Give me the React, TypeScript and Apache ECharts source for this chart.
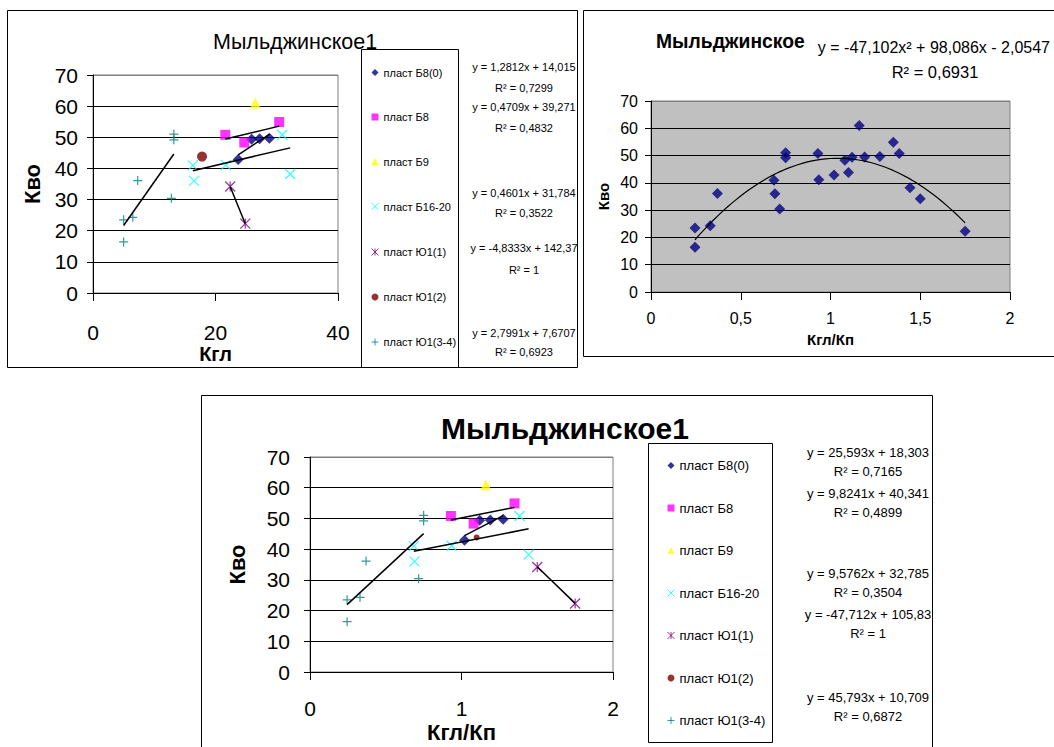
import React, { useEffect, useRef } from 'react';
import * as echarts from 'echarts';

const FONT = '"Liberation Sans", Arial, sans-serif';

const layerNames = ['пласт Б8(0)', 'пласт Б8', 'пласт Б9', 'пласт Б16-20', 'пласт Ю1(1)', 'пласт Ю1(2)', 'пласт Ю1(3-4)'];
const layerColors = ['#000080', '#FF00FF', '#FFFF00', '#00FFFF', '#800080', '#800000', '#008080'];

// Кгл per layer
const kglB8_0 = [23.7, 25.9, 27.2, 28.8];
const kglB8 = [21.6, 24.7, 30.4];
const kglB9 = [26.5];
const kglB16_20 = [16.3, 16.5, 21.7, 30.9, 32.2];
const kglU1_1 = [22.4, 24.86];
const kglU1_2 = [17.8];
const kglU1_34 = [5.0, 5.0, 6.5, 7.3, 12.8, 13.2, 13.2];

// Кгл/Кп per layer
const ratioB8_0 = [1.02, 1.12, 1.19, 1.275];
const ratioB8 = [0.93, 1.08, 1.35];
const ratioB9 = [1.16];
const ratioB16_20 = [0.685, 0.69, 0.935, 1.383, 1.443];
const ratioU1_1 = [1.5, 1.75];
const ratioU1_2 = [1.1];
const ratioU1_34 = [0.245, 0.245, 0.33, 0.37, 0.717, 0.75, 0.75];

// Кво per layer
const kvoB8_0 = [42.9, 49.4, 49.5, 49.7];
const kvoB8 = [50.8, 48.3, 54.9];
const kvoB9 = [61.0];
const kvoB16_20 = [41.0, 36.0, 41.1, 50.8, 38.2];
const kvoU1_1 = [34.2, 22.3];
const kvoU1_2 = [43.8];
const kvoU1_34 = [23.5, 16.4, 24.3, 36.1, 30.4, 51.0, 49.2];

const kglValues = [kglB8_0, kglB8, kglB9, kglB16_20, kglU1_1, kglU1_2, kglU1_34];
const ratioValues = [ratioB8_0, ratioB8, ratioB9, ratioB16_20, ratioU1_1, ratioU1_2, ratioU1_34];
const kvoValues = [kvoB8_0, kvoB8, kvoB9, kvoB16_20, kvoU1_1, kvoU1_2, kvoU1_34];

// linear trend lines (Excel labels)
const slopesKgl = [1.2812, 0.4709, null, 0.4601, -4.8333, null, 2.7991];
const interceptsKgl = [14.015, 39.271, null, 31.784, 142.37, null, 7.6707];
const r2Kgl = [0.7299, 0.4832, null, 0.3522, 1, null, 0.6923];
const slopesRatio = [25.593, 9.8241, null, 9.5762, -47.712, null, 45.793];
const interceptsRatio = [18.303, 40.341, null, 32.785, 105.83, null, 10.709];
const r2Ratio = [0.7165, 0.4899, null, 0.3504, 1, null, 0.6872];
// polynomial trend (all points)
const polyCoefs = [-47.102, 98.086, -2.0547];
const polyR2 = 0.6931;

const yTicks = [0, 10, 20, 30, 40, 50, 60, 70];

const symbolList = [
  'diamond',
  'rect',
  'triangle',
  'path://M0,0L10,10M10,0L0,10',
  'path://M0,0L10,10M10,0L0,10M5,0L5,10',
  'circle',
  'path://M5,0L5,10M0,5L10,5',
];
const strokeSymbol = [false, false, false, true, true, false, true];

const fmt = (n: number) => String(n).replace('.', ',');
const linEq = (a: number, b: number) =>
  'y = ' + fmt(a) + 'x ' + (b < 0 ? '- ' : '+ ') + fmt(Math.abs(b));

function itemStyleFor(i: number, bw = 1.2) {
  return strokeSymbol[i]
    ? { color: 'none', borderColor: layerColors[i], borderWidth: bw }
    : { color: layerColors[i] };
}

export default function App() {
  const ref = useRef<HTMLDivElement>(null);
  useEffect(() => {
    if (!ref.current) return;
    const chart = echarts.init(ref.current, undefined, { renderer: 'svg' });

    const series: any[] = [];
    const sizes1 = [11, 10, 11, 10, 10, 10, 9];
    const sizes3 = [11, 10, 11, 10, 10, 6, 9];
    [0, 2].forEach((g) => {
      const xs = g === 0 ? kglValues : ratioValues;
      const slopes = g === 0 ? slopesKgl : slopesRatio;
      const inters = g === 0 ? interceptsKgl : interceptsRatio;
      layerNames.forEach((name, i) => {
        series.push({
          type: 'scatter',
          name,
          xAxisIndex: g,
          yAxisIndex: g,
          symbol: symbolList[i],
          symbolSize: (g === 0 ? sizes1 : sizes3)[i],
          itemStyle: itemStyleFor(i),
          data: xs[i].map((x, j) => [x, kvoValues[i][j]]),
        });
      });
      layerNames.forEach((name, i) => {
        const a = slopes[i];
        const b = inters[i];
        if (a === null || b === null) return;
        const x0 = Math.min(...xs[i]);
        const x1 = Math.max(...xs[i]);
        series.push({
          type: 'line',
          name: 'trend ' + g + ' ' + i,
          xAxisIndex: g,
          yAxisIndex: g,
          showSymbol: false,
          symbol: 'none',
          silent: true,
          lineStyle: { color: '#000', width: 1.5 },
          data: [[x0, a * x0 + b], [x1, a * x1 + b]],
        });
      });
    });
    // panel 2
    const allRatio: number[] = [];
    const allPoints: number[][] = [];
    ratioValues.forEach((arr, i) => arr.forEach((x, j) => { allRatio.push(x); allPoints.push([x, kvoValues[i][j]]); }));
    series.push({
      type: 'scatter',
      name: 'Кво',
      xAxisIndex: 1,
      yAxisIndex: 1,
      symbol: 'diamond',
      symbolSize: 11,
      itemStyle: { color: '#000080' },
      data: allPoints,
    });
    const pMin = Math.min(...allRatio);
    const pMax = Math.max(...allRatio);
    const polyPts: number[][] = [];
    for (let k = 0; k <= 60; k++) {
      const x = pMin + ((pMax - pMin) * k) / 60;
      polyPts.push([x, polyCoefs[0] * x * x + polyCoefs[1] * x + polyCoefs[2]]);
    }
    series.push({
      type: 'line',
      name: 'poly',
      xAxisIndex: 1,
      yAxisIndex: 1,
      showSymbol: false,
      symbol: 'none',
      silent: true,
      lineStyle: { color: '#000', width: 1.2 },
      data: polyPts,
    });

    const gridColors = ['#000', '#000', '#000', '#000', '#000', '#000', '#000', '#808080'];
    const mkX = (gi: number, max: number, interval: number, fs: number, margin: number, name: string, nfs: number, ngap: number) => ({
      gridIndex: gi,
      type: 'value',
      min: 0,
      max,
      interval,
      axisLine: { show: true, onZero: false, lineStyle: { color: '#000', width: 1 } },
      axisTick: { show: true, length: 8, lineStyle: { color: '#000' } },
      axisLabel: { fontSize: fs, margin, color: '#000', fontFamily: FONT, formatter: (v: number) => fmt(v) },
      splitLine: { show: false },
      name,
      nameLocation: 'middle',
      nameGap: ngap,
      nameTextStyle: { fontSize: nfs, fontWeight: 'bold', color: '#000', fontFamily: FONT },
    });
    const mkY = (gi: number, fs: number, margin: number, nfs: number, ngap: number) => ({
      gridIndex: gi,
      type: 'value',
      min: yTicks[0],
      max: yTicks[yTicks.length - 1],
      interval: yTicks[1] - yTicks[0],
      axisLine: { show: true, onZero: false, lineStyle: { color: '#000', width: 1 } },
      axisTick: { show: true, length: 6, lineStyle: { color: '#000' } },
      axisLabel: { fontSize: fs, margin, color: '#000', fontFamily: FONT },
      splitLine: { show: true, lineStyle: { color: gridColors, width: 1 } },
      name: 'Кво',
      nameLocation: 'middle',
      nameRotate: 90,
      nameGap: ngap,
      nameTextStyle: { fontSize: nfs, fontWeight: 'bold', color: '#000', fontFamily: FONT },
    });

    const graphic: any[] = [];
    const rect = (x: number, y: number, w: number, h: number) => ({
      type: 'rect',
      shape: { x: x + 0.5, y: y + 0.5, width: w, height: h },
      style: { fill: 'none', stroke: '#000', lineWidth: 1 },
      silent: true,
      z: 100,
    });
    graphic.push(rect(7, 10, 570, 357));
    graphic.push(rect(583, 10, 480, 346));
    graphic.push(rect(201, 395, 731, 370));
    graphic.push(rect(361, 49, 97, 318));
    graphic.push(rect(648, 443, 124, 299));

    const eqPos1 = [[524, 67, 88], [524, 107, 128], null, [524, 193, 213], [524, 248, 270], null, [524, 333, 352]];
    const eqPos3 = [[868, 452, 471], [868, 493, 512], null, [868, 573, 592], [868, 614, 633], null, [868, 697, 716]];
    const addEq = (pos: any, a: number, b: number, r2: number, fs: number) => {
      graphic.push({
        type: 'text', x: pos[0], y: pos[1], silent: true,
        style: { text: linEq(a, b), fontSize: fs, fontFamily: FONT, fill: '#000', textAlign: 'center', textVerticalAlign: 'middle' },
      });
      graphic.push({
        type: 'text', x: pos[0], y: pos[2], silent: true,
        style: { text: 'R² = ' + fmt(r2), fontSize: fs, fontFamily: FONT, fill: '#000', textAlign: 'center', textVerticalAlign: 'middle' },
      });
    };
    layerNames.forEach((_, i) => {
      if (slopesKgl[i] !== null) addEq(eqPos1[i], slopesKgl[i] as number, interceptsKgl[i] as number, r2Kgl[i] as number, 11);
      if (slopesRatio[i] !== null) addEq(eqPos3[i], slopesRatio[i] as number, interceptsRatio[i] as number, r2Ratio[i] as number, 13);
    });
    const polyText =
      'y = ' + fmt(polyCoefs[0]) + 'x² ' + (polyCoefs[1] < 0 ? '- ' : '+ ') + fmt(Math.abs(polyCoefs[1])) + 'x ' +
      (polyCoefs[2] < 0 ? '- ' : '+ ') + fmt(Math.abs(polyCoefs[2]));
    graphic.push({
      type: 'text', x: 1050, y: 47, silent: true,
      style: { text: polyText, fontSize: 16, fontFamily: FONT, fill: '#000', textAlign: 'right', textVerticalAlign: 'middle' },
    });
    graphic.push({
      type: 'text', x: 935, y: 72, silent: true,
      style: { text: 'R² = ' + fmt(polyR2), fontSize: 16.5, fontFamily: FONT, fill: '#000', textAlign: 'center', textVerticalAlign: 'middle' },
    });

    const legendData = layerNames.map((name, i) => ({
      name,
      icon: symbolList[i],
      itemStyle: itemStyleFor(i, 1),
    }));

    chart.setOption({
      animation: false,
      backgroundColor: '#fff',
      title: [
        { text: 'Мыльджинское1', left: 213, top: 31, padding: 0, textStyle: { fontSize: 21.5, fontWeight: 'normal', color: '#000', fontFamily: FONT } },
        { text: 'Мыльджинское', left: 656, top: 32, padding: 0, textStyle: { fontSize: 19.3, fontWeight: 'bold', color: '#000', fontFamily: FONT } },
        { text: 'Мыльджинское1', left: 441, top: 413, padding: 0, textStyle: { fontSize: 30, fontWeight: 'bold', color: '#000', fontFamily: FONT } },
      ],
      legend: [
        {
          data: legendData, orient: 'vertical', left: 369, top: 67, padding: 0,
          itemWidth: 7, itemHeight: 7, itemGap: 33.5,
          textStyle: { fontSize: 11, color: '#000', fontFamily: FONT },
          selectedMode: false,
        },
        {
          data: legendData, orient: 'vertical', left: 665, top: 459, padding: 0,
          itemWidth: 7, itemHeight: 7, itemGap: 29.5,
          textStyle: { fontSize: 13, color: '#000', fontFamily: FONT },
          selectedMode: false,
        },
      ],
      grid: [
        { left: 93, top: 75, width: 245, height: 218, show: true, borderColor: '#808080', borderWidth: 1, backgroundColor: 'transparent' },
        { left: 651, top: 101, width: 359, height: 191, show: true, borderColor: '#808080', borderWidth: 1, backgroundColor: '#C0C0C0' },
        { left: 310, top: 457, width: 303, height: 215, show: true, borderColor: '#808080', borderWidth: 1, backgroundColor: 'transparent' },
      ],
      xAxis: [
        mkX(0, 40, 20, 21, 29, 'Кгл', 20, 38),
        mkX(1, 2, 0.5, 16, 18, 'Кгл/Кп', 15, 40),
        mkX(2, 2, 1, 21, 26, 'Кгл/Кп', 22, 49),
      ],
      yAxis: [mkY(0, 21, 15, 22, 50), mkY(1, 16, 13, 15, 40), mkY(2, 21, 20, 22, 62)],
      series,
      graphic,
    });
    return () => chart.dispose();
  }, []);
  return <div ref={ref} style={{ position: 'absolute', left: 0, top: 0, width: 1054, height: 747 }} />;
}
